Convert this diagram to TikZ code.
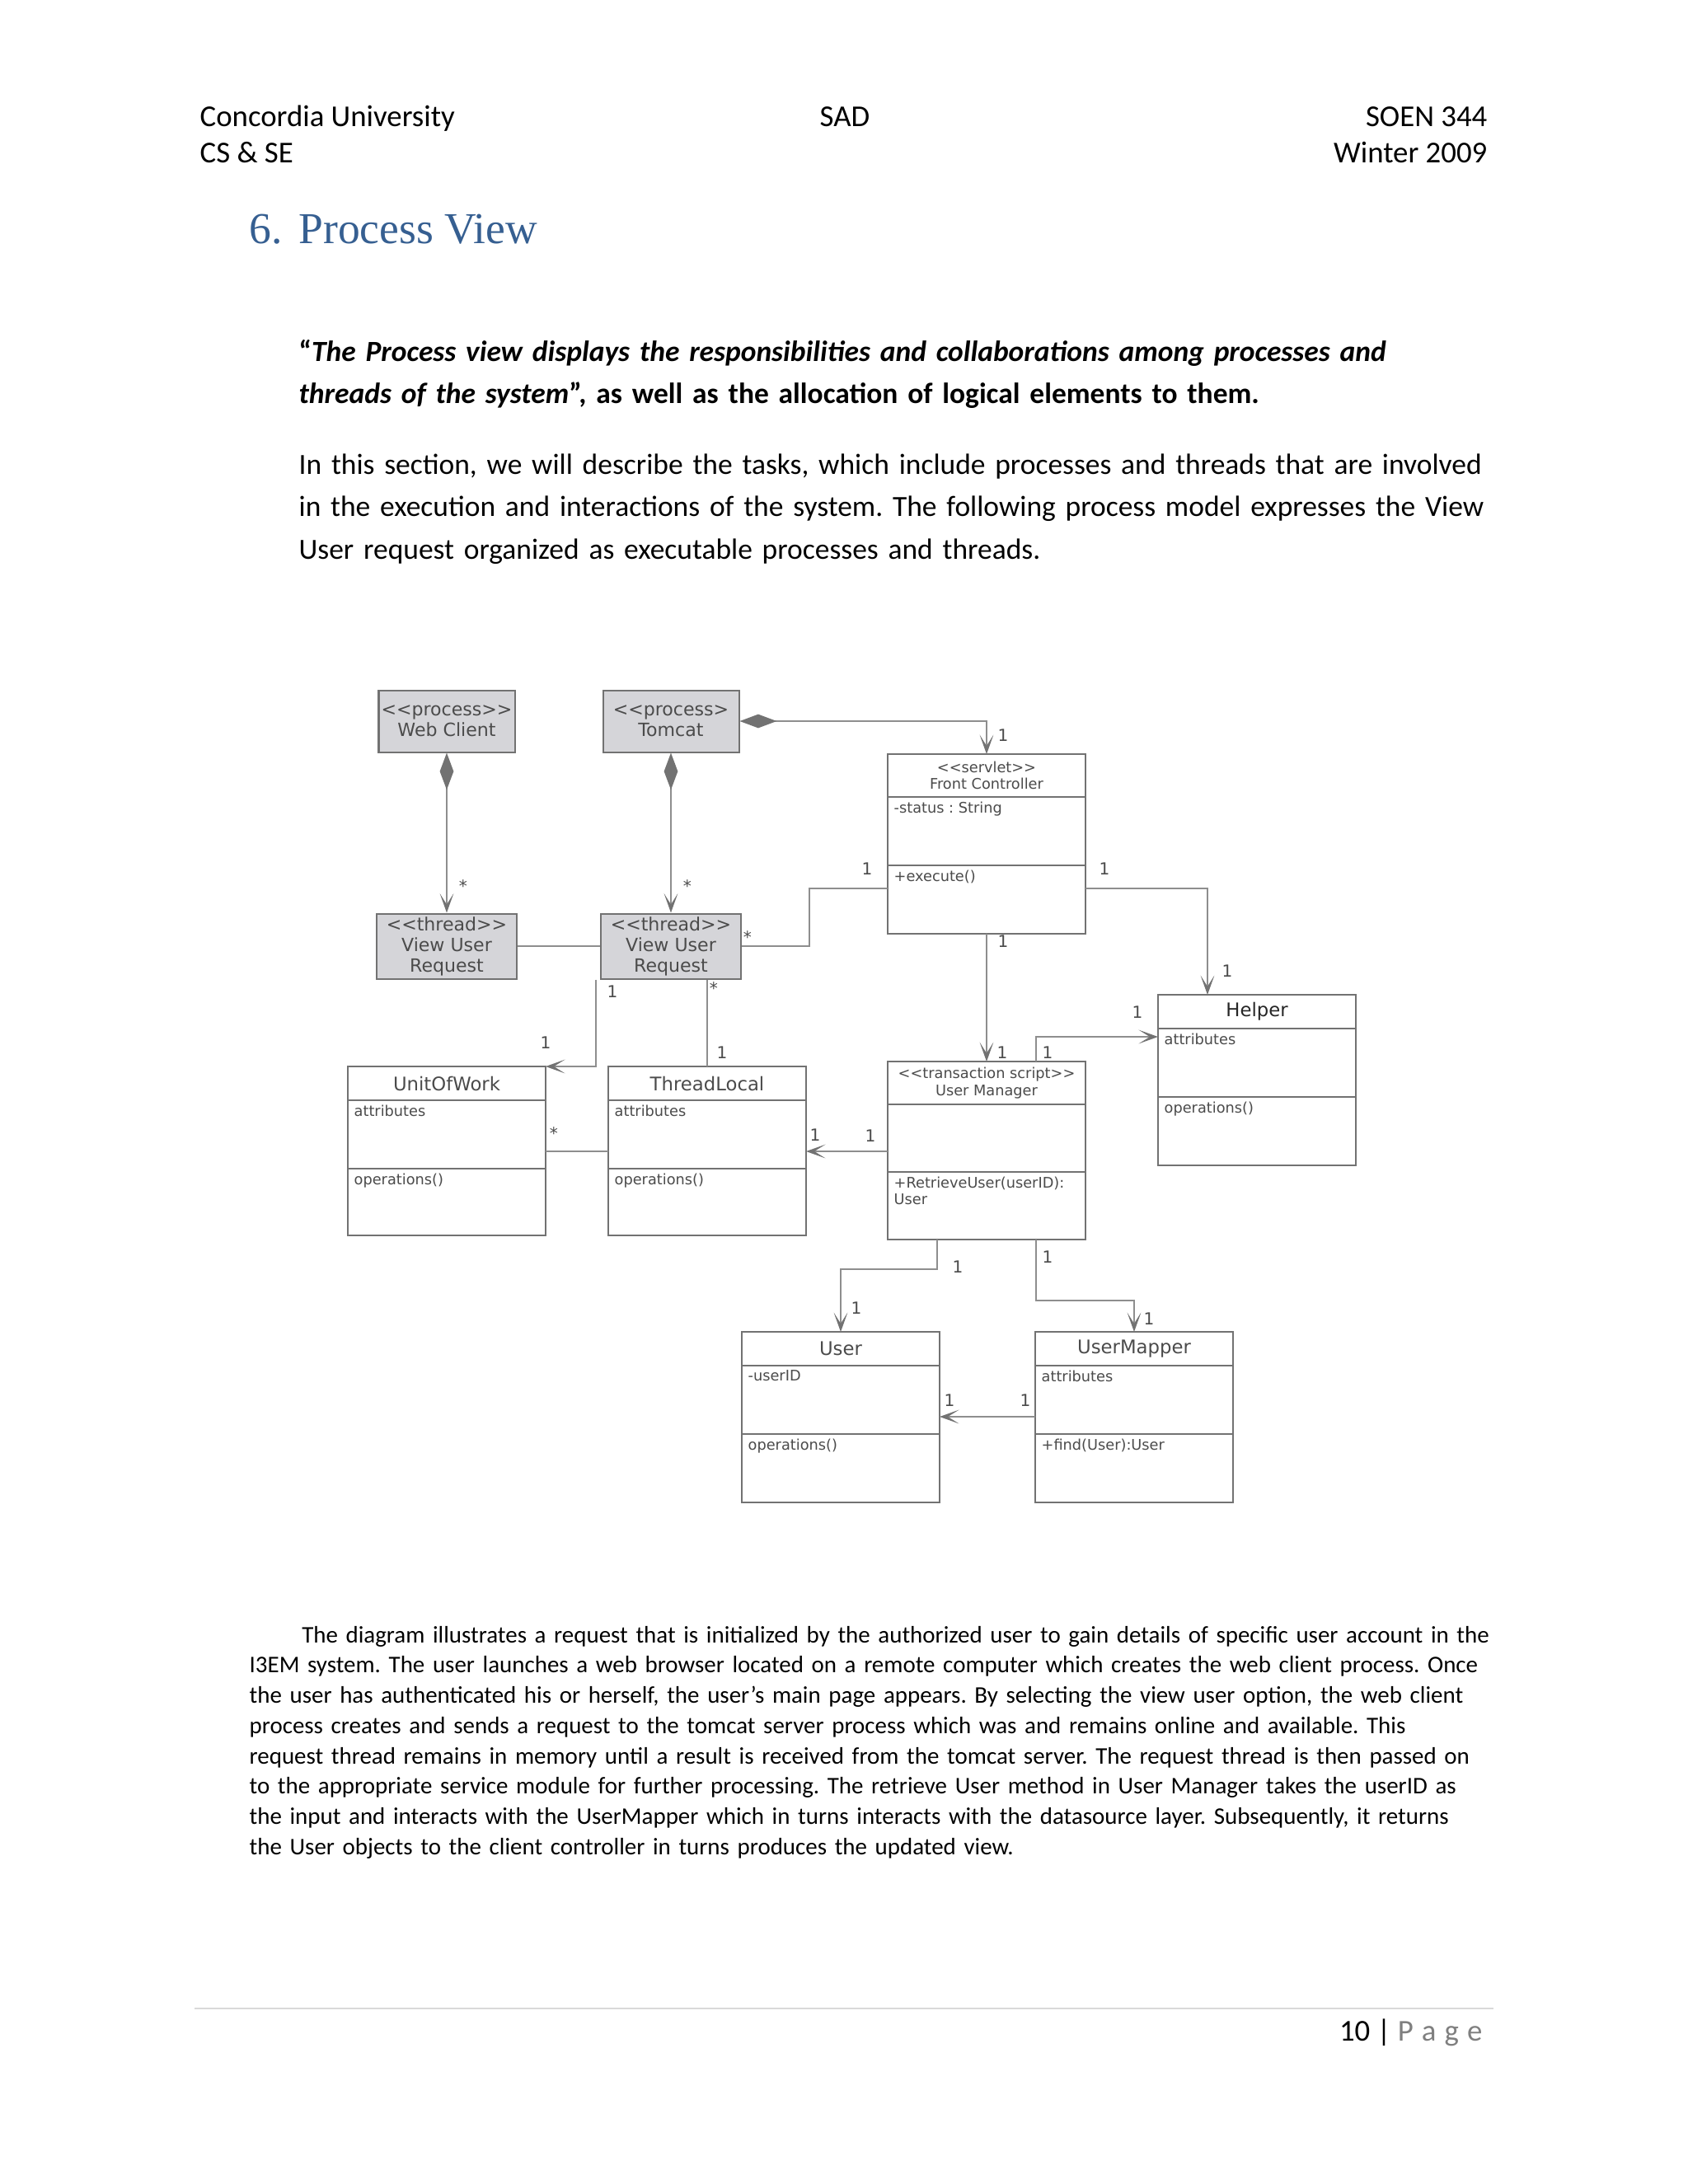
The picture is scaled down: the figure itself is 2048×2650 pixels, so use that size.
\documentclass[tikz,border=0pt]{standalone}
\usepackage{fontspec}
\usepackage{xcolor}
\usepackage{tikz}
\usetikzlibrary{arrows.meta,positioning,calc}
\setmainfont{Carlito}
\newfontfamily\umlfont{DejaVu Sans}
\newfontfamily\headingfont{Liberation Serif}
\definecolor{headblue}{HTML}{365F91}
\definecolor{boxline}{HTML}{727272}
\definecolor{linkline}{HTML}{8E8E8E}
\definecolor{procfill}{HTML}{D5D5D9}
\definecolor{umltext}{HTML}{4B4B4B}
\definecolor{rulegray}{HTML}{D9D9D9}
\definecolor{pagegray}{HTML}{7F7F7F}
\def\pxu{0.29883pt}
\frenchspacing
\tikzstyle{pagetext}=[inner sep=0pt,font=\fontsize{11}{13.4}\selectfont]
\tikzstyle{body}=[anchor=base west,inner sep=0pt,text width=530pt,align=left]
\tikzstyle{proc}=[draw=boxline,line width=0.6pt,fill=procfill,inner sep=0pt,align=center,text=umltext,font=\umlfont\fontsize{6.6}{7.5}\selectfont]
\tikzstyle{classhead}=[draw=boxline,line width=0.6pt,fill=white,minimum width=240*\pxu,minimum height=41*\pxu,inner sep=0pt,outer sep=0pt,align=center,text=umltext,font=\umlfont\fontsize{6.8}{8}\selectfont]
\tikzstyle{stereohead}=[classhead,minimum height=52*\pxu,font=\umlfont\fontsize{5.3}{6.1}\selectfont]
\tikzstyle{classpart}=[draw=boxline,line width=0.6pt,fill=white,minimum width=240*\pxu,minimum height=83*\pxu,inner sep=0pt,outer sep=0pt]
\tikzstyle{parttext}=[anchor=north west,inner xsep=2.1pt,inner ysep=1.6pt,align=left,text=umltext,font=\umlfont\fontsize{5.3}{6.1}\selectfont]
\tikzstyle{mult}=[inner sep=0pt,text=umltext,font=\umlfont\fontsize{6}{7}\selectfont]
\tikzstyle{link}=[draw=linkline,line width=0.6pt]
\tikzstyle{nav}=[link,-{Stealth[length=7pt,width=5pt,inset=4pt,color=boxline]}]
\tikzstyle{compose}=[link,{Diamond[length=13.4pt,width=5pt,color=boxline,fill=boxline]}-{Stealth[length=7pt,width=5pt,inset=4pt,color=boxline]}]

\begin{document}
\begin{tikzpicture}[x=0.29883pt,y=-0.29883pt]
\useasboundingbox (0,0) rectangle (2048,2650);
\fill[white] (0,0) rectangle (2048,2650);

% page header
\node[pagetext,anchor=base west] (hdruni) at (242,153) {Concordia University};
\node[pagetext,anchor=base west] (hdrdept) at (242,197) {CS \& SE};
\node[pagetext,anchor=base] (hdrdoc) at (1025,153) {SAD};
\node[pagetext,anchor=base east] (hdrcourse) at (1805,153) {SOEN 344};
\node[pagetext,anchor=base east] (hdrterm) at (1805,197) {Winter 2009};

% heading and text
\node[anchor=base west,inner sep=0pt,text=headblue,font=\headingfont\fontsize{16}{19}\selectfont] (title) at (302,295) {\makebox[17.9pt][l]{6.}Process View};
\node[body,font=\bfseries\fontsize{10.6}{15.4}\selectfont] (quote) at (362,438) {“\textit{The Process view displays the responsibilities and collaborations among processes and}\\
\textit{threads of the system}”, as well as the allocation of logical elements to them.};
\node[body,font=\fontsize{10.6}{15.4}\selectfont] (intro) at (362,575) {In this section, we will describe the tasks, which include processes and threads that are involved\\
in the execution and interactions of the system. The following process model expresses the View\\
User request organized as executable processes and threads.};

% processes and threads
\node[proc,minimum width=165*\pxu,minimum height=75*\pxu] (webclient) at (542,875) {<{}<process>{}>\\Web Client};
\node[proc,minimum width=165*\pxu,minimum height=75*\pxu] (tomcat) at (814,875) {<{}<process>\\Tomcat};
\node[proc,minimum width=170*\pxu,minimum height=79*\pxu] (thread1) at (542,1148) {<{}<thread>{}>\\View User\\Request};
\node[proc,minimum width=170*\pxu,minimum height=79*\pxu] (thread2) at (814,1148) {<{}<thread>{}>\\View User\\Request};

% front controller
\node[stereohead,anchor=north west] (fchead) at (1077,915) {<{}<servlet>{}>\\Front Controller};
\node[classpart,below=0pt of fchead] (fcattr) {};
\node[classpart,below=0pt of fcattr] (fcops) {};
\node[parttext] (fcattrtxt) at (fcattr.north west) {-status : String};
\node[parttext] (fcopstxt) at (fcops.north west) {+execute()};

% helper
\node[classhead,anchor=north west,text=black!85] (helperhead) at (1405,1207) {Helper};
\node[classpart,below=0pt of helperhead] (helperattr) {};
\node[classpart,below=0pt of helperattr] (helperops) {};
\node[parttext] (helperattrtxt) at (helperattr.north west) {attributes};
\node[parttext] (helperopstxt) at (helperops.north west) {operations()};

% user manager
\node[stereohead,anchor=north west] (umhead) at (1077,1288) {<{}<transaction script>{}>\\User Manager};
\node[classpart,below=0pt of umhead,minimum height=82*\pxu] (umattr) {};
\node[classpart,below=0pt of umattr,minimum height=82*\pxu] (umops) {};
\node[parttext] (umopstxt) at (umops.north west) {+RetrieveUser(userID):\\User};

% unit of work
\node[classhead,anchor=north west] (uowhead) at (422,1294) {UnitOfWork};
\node[classpart,below=0pt of uowhead] (uowattr) {};
\node[classpart,below=0pt of uowattr,minimum height=81*\pxu] (uowops) {};
\node[parttext] (uowattrtxt) at (uowattr.north west) {attributes};
\node[parttext] (uowopstxt) at (uowops.north west) {operations()};

% thread local
\node[classhead,anchor=north west] (tlhead) at (738,1294) {ThreadLocal};
\node[classpart,below=0pt of tlhead] (tlattr) {};
\node[classpart,below=0pt of tlattr,minimum height=81*\pxu] (tlops) {};
\node[parttext] (tlattrtxt) at (tlattr.north west) {attributes};
\node[parttext] (tlopstxt) at (tlops.north west) {operations()};

% user
\node[classhead,anchor=north west] (userhead) at (900,1616) {User};
\node[classpart,below=0pt of userhead] (userattr) {};
\node[classpart,below=0pt of userattr] (userops) {};
\node[parttext] (userattrtxt) at (userattr.north west) {-userID};
\node[parttext] (useropstxt) at (userops.north west) {operations()};

% user mapper
\node[classhead,anchor=north west] (mapperhead) at (1256,1616) {UserMapper};
\node[classpart,below=0pt of mapperhead] (mapperattr) {};
\node[classpart,below=0pt of mapperattr] (mapperops) {};
\node[parttext] (mapperattrtxt) at (mapperattr.north west) {attributes};
\node[parttext] (mapperopstxt) at (mapperops.north west) {+find(User):User};

% connectors
\coordinate (fcrow) at (0,1078);
\coordinate (midrow) at (0,1397);
\coordinate (lowrow) at (0,1719);
\draw[compose] (webclient.south) -- (thread1.north);
\draw[compose] (tomcat.south) -- (thread2.north);
\draw[compose] (tomcat.east) -| (fchead.north);
\draw[link] (thread1.east) -- (thread2.west);
\draw[link] (thread2.east) -- ++(82,0) |- (fcops.west |- fcrow);
\draw[nav] (fcops.east |- fcrow) -| ([xshift=60*\pxu]helperhead.north west);
\draw[nav] (fcops.south) -- (umhead.north);
\draw[nav] ([xshift=-60*\pxu]umhead.north east) |- ([yshift=-10*\pxu]helperattr.north west);
\draw[nav] ([xshift=-5*\pxu]thread2.south west) |- (uowhead.north east);
\draw[link] (thread2.south -| tlhead.north) -- (tlhead.north);
\draw[link] (tlattr.west |- midrow) -- (uowattr.east |- midrow);
\draw[nav] (umattr.west |- midrow) -- (tlattr.east |- midrow);
\draw[nav] ([xshift=60*\pxu]umops.south west) -- ++(0,36) -| (userhead.north);
\draw[nav] ([xshift=-60*\pxu]umops.south east) -- ++(0,74) -| (mapperhead.north);
\draw[nav] (mapperattr.west |- lowrow) -- (userattr.east |- lowrow);

% multiplicities
\node[mult] (m1) at (562,1075) {*};
\node[mult] (m2) at (834,1075) {*};
\node[mult] (m3) at (1217,892) {1};
\node[mult] (m4) at (907,1137) {*};
\node[mult] (m5) at (1052,1054) {1};
\node[mult] (m6) at (1340,1054) {1};
\node[mult] (m7) at (1489,1178) {1};
\node[mult] (m8) at (1217,1142) {1};
\node[mult] (m9) at (1216,1277) {1};
\node[mult] (m10) at (1271,1277) {1};
\node[mult] (m11) at (1380,1228) {1};
\node[mult] (m12) at (743,1203) {1};
\node[mult] (m13) at (662,1265) {1};
\node[mult] (m14) at (866,1199) {*};
\node[mult] (m15) at (876,1277) {1};
\node[mult] (m16) at (672,1375) {*};
\node[mult] (m17) at (989,1377) {1};
\node[mult] (m18) at (1056,1378) {1};
\node[mult] (m19) at (1162,1537) {1};
\node[mult] (m20) at (1039,1587) {1};
\node[mult] (m21) at (1271,1525) {1};
\node[mult] (m22) at (1394,1600) {1};
\node[mult] (m23) at (1152,1699) {1};
\node[mult] (m24) at (1244,1699) {1};

% closing paragraph
\node[body,font=\fontsize{8.65}{10.98}\selectfont] (summary) at (302,1993) {\hspace*{19pt}The diagram illustrates a request that is initialized by the authorized user to gain details of specific user account in the\\
I3EM system. The user launches a web browser located on a remote computer which creates the web client process. Once\\
the user has authenticated his or herself, the user’s main page appears. By selecting the view user option, the web client\\
process creates and sends a request to the tomcat server process which was and remains online and available. This\\
request thread remains in memory until a result is received from the tomcat server. The request thread is then passed on\\
to the appropriate service module for further processing. The retrieve User method in User Manager takes the userID as\\
the input and interacts with the UserMapper which in turns interacts with the datasource layer. Subsequently, it returns\\
the User objects to the client controller in turns produces the updated view.};

% page footer
\draw[rulegray,line width=0.6pt] (236,2437) -- (1812,2437);
\node[pagetext,anchor=base east] (pageno) at (1799,2476) {10 | \textcolor{pagegray}{P\hspace{3pt}a\hspace{3pt}g\hspace{3pt}e}};
\end{tikzpicture}
\end{document}
